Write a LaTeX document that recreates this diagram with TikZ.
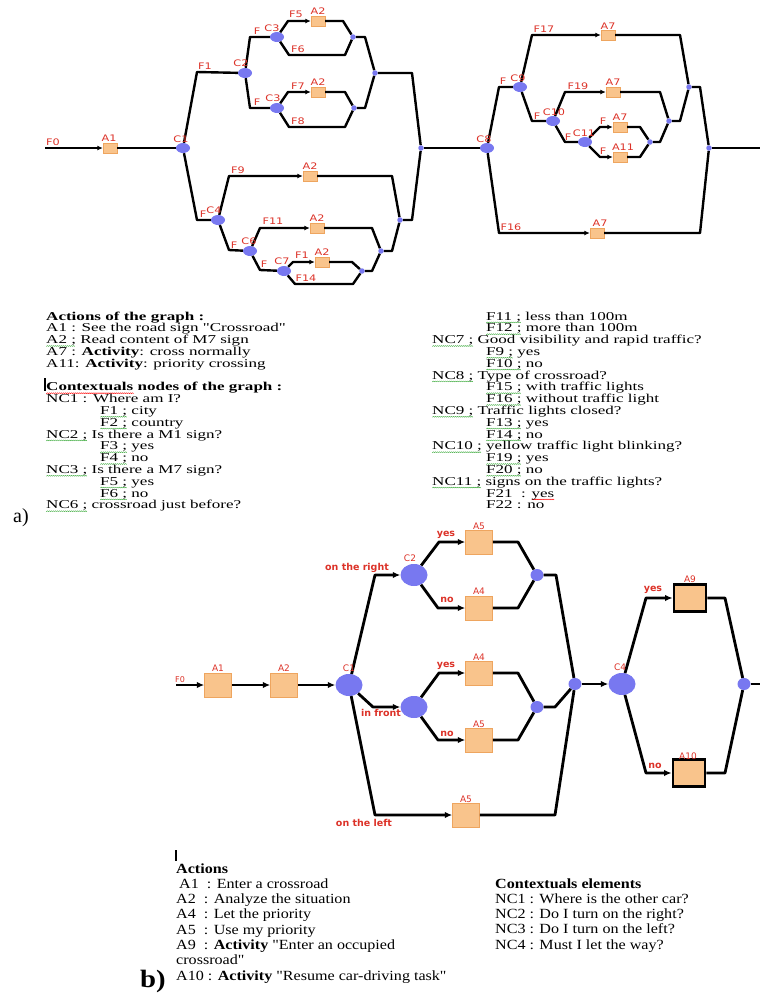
\documentclass[tikz,border=0pt]{standalone}
\usepackage{fontspec}
\usetikzlibrary{arrows.meta,shapes.geometric}
\setmainfont{Liberation Serif}
\newfontfamily\txta[FakeStretch=1.42]{Liberation Serif}
\newfontfamily\txtb[FakeStretch=1.15]{Liberation Serif}
\newfontfamily\lbltop[FakeStretch=1.25]{DejaVu Sans}
\newfontfamily\lblbot{DejaVu Sans}
\definecolor{blueF}{RGB}{120,120,240}
\definecolor{orF}{RGB}{249,196,140}
\definecolor{orD}{RGB}{238,165,95}
\definecolor{lred}{RGB}{220,50,40}
\definecolor{spell}{RGB}{60,170,60}
\newcommand{\wavunit}{\hbox{\rotatebox{40}{\rule{1.4pt}{0.45pt}}\kern-0.35pt\raisebox{0.9pt}{\rotatebox{-40}{\rule{1.4pt}{0.45pt}}}\kern-0.35pt}}
\newcommand{\wavy}[2]{\setbox0=\hbox{#2}\rlap{\lower3pt\hbox to \wd0{\color{#1}\leaders\wavunit\hfil}}\box0\relax}
\newcommand{\gw}[1]{\wavy{spell}{#1}}
\newcommand{\rw}[1]{\wavy{red}{#1}}
\begin{document}
\begin{tikzpicture}[x=1pt,y=-1pt,
  tA/.style={rectangle,fill=orF,draw=orD,line width=0.4pt,minimum width=14pt,minimum height=10pt,inner sep=0pt},
  tC/.style={ellipse,fill=blueF,minimum width=14pt,minimum height=10pt,inner sep=0pt},
  tM/.style={circle,fill=blueF,minimum size=5.5pt,inner sep=0pt},
  tL/.style={text=lred,font=\lbltop\fontsize{9}{10}\selectfont,inner sep=0pt},
  tE/.style={line width=2.4pt,line join=round},
  tAr/.style={tE,-{Latex[length=5.5pt,width=5pt]}},
  bA/.style={rectangle,fill=orF,draw=orD,line width=0.5pt,minimum width=27pt,minimum height=24pt,inner sep=0pt},
  bAk/.style={rectangle,fill=orF,draw=black,line width=2.8pt,minimum width=32pt,minimum height=27pt,inner sep=0pt},
  bC/.style={ellipse,fill=blueF,minimum width=27pt,minimum height=22pt,inner sep=0pt},
  bM/.style={ellipse,fill=blueF,minimum width=13pt,minimum height=12pt,inner sep=0pt},
  bL/.style={text=lred,font=\lblbot\fontsize{9}{10}\selectfont,inner sep=0pt},
  bLb/.style={text=lred,font=\lblbot\bfseries\fontsize{9.5}{10}\selectfont,inner sep=0pt},
  bE/.style={line width=2.8pt,line join=round},
  bAr/.style={bE,-{Latex[length=7.5pt,width=6.5pt]}},
  ta/.style={font=\txta\fontsize{12}{12}\selectfont,inner sep=0pt,anchor=base west},
  tb/.style={font=\txtb\fontsize{14}{14}\selectfont,inner sep=0pt,anchor=base west}]
\useasboundingbox (0,0) rectangle (760,994);

% ---------------- top graph (a) ----------------
\node[tA] (tA1) at (110,148) {};
\node[tC] (tC1) at (183,148) {};
\node[tC] (tC2) at (245,73) {};
\node[tC] (tC3a) at (277,37) {};
\node[tC] (tC3b) at (277,108) {};
\node[tA] (tA2a) at (318,21) {};
\node[tA] (tA2b) at (318,92) {};
\node[tM] (tm1) at (353,37) {};
\node[tM] (tm3) at (354,108) {};
\node[tM] (tm2) at (375,73) {};
\node[tM] (tMM1) at (421,148) {};
\node[tC] (tC4) at (218,220) {};
\node[tA] (tA2c) at (310,176) {};
\node[tC] (tC6) at (250,251) {};
\node[tA] (tA2d) at (317,228) {};
\node[tC] (tC7) at (284,271) {};
\node[tA] (tA2e) at (322,262) {};
\node[tM] (tm6) at (362,271) {};
\node[tM] (tm5) at (381,251) {};
\node[tM] (tm4) at (400,220) {};
\node[tC] (tC8) at (487,148) {};
\node[tC] (tC9) at (520,87) {};
\node[tA] (tA7a) at (608,35) {};
\node[tM] (tm7) at (689,87) {};
\node[tC] (tC10) at (553,121) {};
\node[tA] (tA7b) at (613,92) {};
\node[tM] (tm8) at (669,121) {};
\node[tC] (tC11) at (585,142) {};
\node[tA] (tA7c) at (620,127) {};
\node[tA] (tA11) at (620,157) {};
\node[tM] (tm9) at (650,142) {};
\node[tA] (tA7d) at (597,233) {};
\node[tM] (tMM2) at (709,148) {};
\coordinate (tF0) at (45,148);
\coordinate (tEnd) at (760,148);

\draw[tAr] (tF0) -- (tA1);
\draw[tE] (tA1) -- (tC1);
\draw[tE] (tC1) -- (197,72) -- (tC2);
\draw[tE] (tC2) -- (250,37) -- (tC3a);
\draw[tE] (tC2) -- (250,108) -- (tC3b);
\draw[tAr] (tC3a) -- (288,21) -- (tA2a);
\draw[tE] (tA2a) -- (343,21) -- (tm1);
\draw[tE] (tC3a) -- (289,55) -- (345,55) -- (tm1);
\draw[tE] (tm1) -- (365,37) -- (tm2);
\draw[tAr] (tC3b) -- (288,92) -- (tA2b);
\draw[tE] (tA2b) -- (345,92) -- (tm3);
\draw[tE] (tC3b) -- (289,127) -- (345,127) -- (tm3);
\draw[tE] (tm3) -- (365,108) -- (tm2);
\draw[tE] (tm2) -- (412,73) -- (tMM1);
\draw[tE] (tC1) -- (197,220) -- (tC4);
\draw[tAr] (tC4) -- (229,176) -- (tA2c);
\draw[tE] (tA2c) -- (392,176) -- (tm4);
\draw[tE] (tC4) -- (229,250) -- (tC6);
\draw[tAr] (tC6) -- (260,228) -- (tA2d);
\draw[tE] (tA2d) -- (372,228) -- (tm5);
\draw[tE] (tC6) -- (260,270) -- (tC7);
\draw[tAr] (tC7) -- (293,262) -- (tA2e);
\draw[tE] (tA2e) -- (352,262) -- (tm6);
\draw[tE] (tC7) -- (295,284) -- (353,284) -- (tm6);
\draw[tE] (tm6) -- (372,271) -- (tm5);
\draw[tE] (tm5) -- (392,251) -- (tm4);
\draw[tE] (tm4) -- (412,220) -- (tMM1);
\draw[tE] (tMM1) -- (tC8);
\draw[tE] (tC8) -- (499,87) -- (tC9);
\draw[tAr] (tC9) -- (532,35) -- (tA7a);
\draw[tE] (tA7a) -- (680,35) -- (tm7);
\draw[tE] (tC9) -- (532,121) -- (tC10);
\draw[tAr] (tC10) -- (565,92) -- (tA7b);
\draw[tE] (tA7b) -- (660,92) -- (tm8);
\draw[tE] (tC10) -- (565,142) -- (tC11);
\draw[tAr] (tC11) -- (600,127) -- (tA7c);
\draw[tE] (tA7c) -- (640,127) -- (tm9);
\draw[tAr] (tC11) -- (600,157) -- (tA11);
\draw[tE] (tA11) -- (640,157) -- (tm9);
\draw[tE] (tm9) -- (660,142) -- (tm8);
\draw[tE] (tm8) -- (680,121) -- (tm7);
\draw[tE] (tm7) -- (700,87) -- (tMM2);
\draw[tAr] (tC8) -- (499,233) -- (tA7d);
\draw[tE] (tA7d) -- (700,233) -- (tMM2);
\draw[tE] (tMM2) -- (tEnd);

\foreach \x/\y/\s [count=\k] in {53/142/F0, 109/138/A1, 181/139/C1, 205/66/F1, 241/63/C2,
  257/31/F, 272/28/C3, 257/102/F, 273/98/C3, 296/14/F5, 318/11/A2, 298/49/F6, 298/86/F7,
  318/82/A2, 298/121/F8, 203/214/F, 214/210/C4, 238/170/F9, 310/166/A2, 234/245/F, 249/241/C6,
  273/221/F11, 317/218/A2, 264/264/F, 282/261/C7, 302/255/F1, 322/252/A2, 306/278/F14,
  484/139/C8, 503/81/F, 518/78/C9, 544/29/F17, 608/26/A7, 537/116/F, 554/112/C10, 578/86/F19,
  613/82/A7, 568/137/F, 584/133/C11, 603/121/F, 620/117/A7, 603/151/F, 623/147/A11,
  511/227/F16, 600/223/A7}
  {\node[tL] (tl\k) at (\x,\y) {\s};}

% ---------------- legend (a) ----------------
\node[font=\fontsize{20}{20}\selectfont,inner sep=0pt,anchor=base west] (laLab) at (13,522) {a)};
\draw[line width=1.5pt] (45,378) -- (45,391);
\foreach \dx/\mytext [count=\i from 0] in {
  0/{\bfseries Actions of the graph :},
  0/{A1 : See the road sign "Crossroad"},
  0/{\gw{A2 ;} Read content of M7 sign},
  0/{A7 : {\bfseries Activity}: cross normally},
  0/{A11: {\bfseries Activity}: priority crossing},
  0/{},
  0/{\bfseries\rw{Contextuals} nodes of the graph :},
  0/{NC1 : Where am I?},
  54/{\gw{F1 ;} city},
  54/{\gw{F2 ;} country},
  0/{\gw{NC2 ;} Is there a M1 sign?},
  54/{\gw{F3 ;} yes},
  54/{\gw{F4 ;} no},
  0/{\gw{NC3 ;} Is there a M7 sign?},
  54/{\gw{F5 ;} yes},
  54/{\gw{F6 ;} no},
  0/{\gw{NC6 ;} crossroad just before?}}
  {\node[ta] (la\i) at (46+\dx,320+11.8*\i) {\mytext};}
\foreach \dx/\mytext [count=\i from 0] in {
  54/{\gw{F11 ;} less than 100m},
  54/{\gw{F12 ;} more than 100m},
  0/{\gw{NC7 ;} Good visibility and rapid traffic?},
  54/{\gw{F9 ;} yes},
  54/{\gw{F10 ;} no},
  0/{\gw{NC8 ;} Type of crossroad?},
  54/{\gw{F15 ;} with traffic lights},
  54/{\gw{F16 ;} without traffic light},
  0/{\gw{NC9 ;} Traffic lights closed?},
  54/{\gw{F13 ;} yes},
  54/{\gw{F14 ;} no},
  0/{\gw{NC10 ;} yellow traffic light blinking?},
  54/{\gw{F19 ;} yes},
  54/{\gw{F20 ;} no},
  0/{\gw{NC11 ;} signs on the traffic lights?},
  54/{F21 \ : \rw{yes}},
  54/{F22 : no}}
  {\node[ta] (lr\i) at (432+\dx,320+11.8*\i) {\mytext};}

% ---------------- bottom graph (b) ----------------
\node[bA] (bA1) at (218,685) {};
\node[bA] (bA2) at (284,685) {};
\node[bC] (bC1) at (349,685) {};
\node[bC] (bC2) at (414,575) {};
\node[bA] (bA5a) at (479,542) {};
\node[bA] (bA4a) at (479,608) {};
\node[bM] (bm1) at (537,575) {};
\node[bC] (bC3) at (414,707) {};
\node[bA] (bA4b) at (479,673) {};
\node[bA] (bA5b) at (479,740) {};
\node[bM] (bm2) at (537,707) {};
\node[bA] (bA5c) at (466,815) {};
\node[bM] (bBM) at (575,684) {};
\node[bC] (bC4) at (622,684) {};
\node[bAk] (bA9) at (690,598) {};
\node[bAk] (bA10) at (689,773) {};
\node[bM] (bFM) at (744,684) {};
\coordinate (bF0) at (176,685);
\coordinate (bEnd) at (760,684);

\draw[bAr] (bF0) -- (bA1);
\draw[bAr] (bA1) -- (bA2);
\draw[bAr] (bA2) -- (bC1);
\draw[bAr] (bC1) -- (375,575) -- (bC2);
\draw[bAr] (bC2) -- (439,542) -- (bA5a);
\draw[bE] (bA5a) -- (518,542) -- (bm1);
\draw[bAr] (bC2) -- (438,608) -- (bA4a);
\draw[bE] (bA4a) -- (518,608) -- (bm1);
\draw[bE] (bm1) -- (556,575) -- (bBM);
\draw[bAr] (bC1) -- (373,707) -- (bC3);
\draw[bAr] (bC3) -- (439,673) -- (bA4b);
\draw[bE] (bA4b) -- (518,673) -- (bm2);
\draw[bAr] (bC3) -- (438,740) -- (bA5b);
\draw[bE] (bA5b) -- (518,740) -- (bm2);
\draw[bE] (bm2) -- (555,707) -- (bBM);
\draw[bAr] (bC1) -- (375,815) -- (bA5c);
\draw[bE] (bA5c) -- (555,815) -- (bBM);
\draw[bAr] (bBM) -- (bC4);
\draw[bAr] (bC4) -- (646,598) -- (bA9);
\draw[bE] (bA9) -- (725,598) -- (bFM);
\draw[bAr] (bC4) -- (646,773) -- (bA10);
\draw[bE] (bA10) -- (725,773) -- (bFM);
\draw[bE] (bFM) -- (bEnd);

\node[bL,font=\lblbot\fontsize{8}{9}\selectfont] (blF0) at (180,680) {F0};
\foreach \x/\y/\s [count=\k] in {218/668/A1, 284/668/A2, 349/668/C1, 410/558/C2, 479/526/A5,
  479/591/A4, 479/657/A4, 479/724/A5, 466/799/A5, 620/667/C4, 690/579/A9, 688/756/A10}
  {\node[bL] (bl\k) at (\x,\y) {\s};}
\foreach \x/\y/\s [count=\k] in {357/568/on the right, 446/535/yes, 447/600/no, 381/713/in front,
  446/666/yes, 447/734/no, 364/823/on the left, 653/590/yes, 655/766/no}
  {\node[bLb] (bb\k) at (\x,\y) {\s};}

% ---------------- legend (b) ----------------
\draw[line width=1.5pt] (176,850) -- (176,861);
\node[font=\txtb\bfseries\fontsize{25}{25}\selectfont,inner sep=0pt,anchor=base west] (lbLab) at (140,987) {b)};
\foreach \dx/\mytext [count=\i from 0] in {
  0/{\bfseries Actions},
  3/{A1\ \ : Enter a crossroad},
  0/{A2\ \ : Analyze the situation},
  0/{A4\ \ : Let the priority},
  0/{A5\ \ : Use my priority},
  0/{A9\ \ : {\bfseries Activity} "Enter an occupied},
  0/{crossroad"},
  0/{A10 : {\bfseries Activity} "Resume car-driving task"}}
  {\node[tb] (lb\i) at (176+\dx,873+15.3*\i) {\mytext};}
\foreach \mytext [count=\i from 0] in {
  {\bfseries Contextuals elements},
  {NC1 : Where is the other car?},
  {NC2 : Do I turn on the right?},
  {NC3 : Do I turn on the left?},
  {NC4 : Must I let the way?}}
  {\node[tb] (lc\i) at (495,888+15.3*\i) {\mytext};}
\end{tikzpicture}
\end{document}
